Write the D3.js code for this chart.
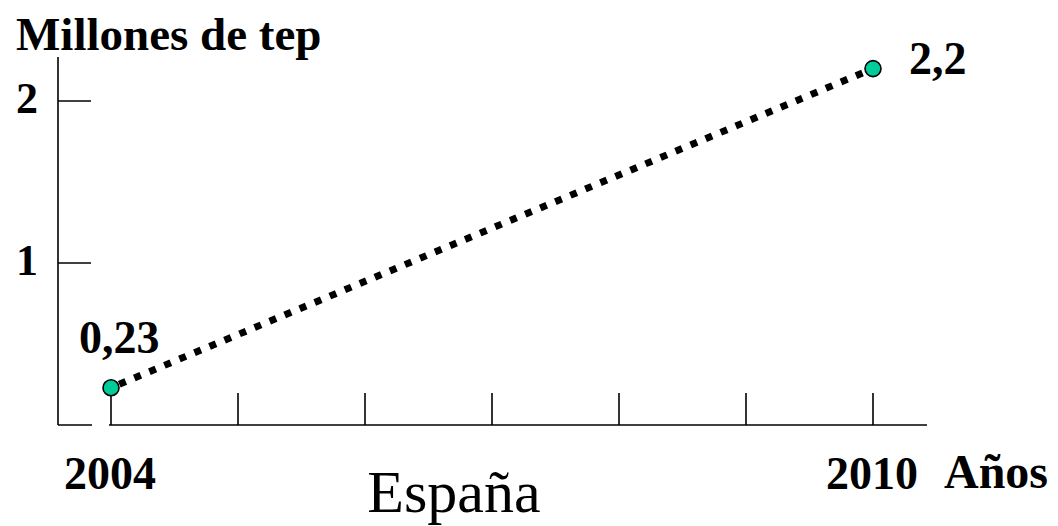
<!DOCTYPE html>
<html>
<head>
<meta charset="utf-8">
<script src="https://cdn.jsdelivr.net/npm/d3@7"></script>
<style>
  html, body { margin: 0; padding: 0; background: #fff; }
  svg { display: block; }
  text { font-family: "Liberation Serif", "Times New Roman", serif; fill: #000; }
</style>
</head>
<body>
<svg id="chart" width="1058" height="526"></svg>
<script>
// ---- data ----
const years = [2004, 2010];
const values = [0.23, 2.2];
const valueLabels = ["0,23", "2,2"];
const xTickYears = [2004, 2005, 2006, 2007, 2008, 2009, 2010];
const xTickLabels = ["2004", "2010"];
const yTicks = [1, 2];
const yTickLabels = ["1", "2"];
const yTitle = "Millones de tep";
const xTitle = "Años";
const caption = "España";

// ---- layout ----
const svg = d3.select("#chart");
const x = d3.scaleLinear().domain([2004, 2010]).range([111, 873]);
const y = d3.scaleLinear().domain([0, 2]).range([425, 101]);
const axisX0 = 58, axisXEnd = 927, axisYTop = 57;
const tickLen = 32;
const boldFont = "bold 46px 'Liberation Serif', 'Times New Roman', serif";

// y axis
svg.append("line")
  .attr("x1", axisX0).attr("x2", axisX0)
  .attr("y1", axisYTop).attr("y2", y(0))
  .attr("stroke", "#000").attr("stroke-width", 1.6);

// y ticks (inward, to the right)
svg.selectAll(".ytick").data(yTicks).enter().append("line")
  .attr("x1", axisX0).attr("x2", axisX0 + tickLen + 1)
  .attr("y1", d => y(d)).attr("y2", d => y(d))
  .attr("stroke", "#000").attr("stroke-width", 1.6);

svg.selectAll(".ylab").data(yTicks).enter().append("text")
  .attr("x", 38).attr("y", d => y(d) + 12)
  .attr("text-anchor", "end")
  .style("font", "bold 44px 'Liberation Serif', 'Times New Roman', serif")
  .text((d, i) => yTickLabels[i]);

// x axis: short stub, gap, then main segment
svg.append("line")
  .attr("x1", axisX0).attr("x2", x(2004) - 19)
  .attr("y1", y(0)).attr("y2", y(0))
  .attr("stroke", "#000").attr("stroke-width", 1.6);
svg.append("line")
  .attr("x1", x(2004) - 2).attr("x2", axisXEnd)
  .attr("y1", y(0)).attr("y2", y(0))
  .attr("stroke", "#000").attr("stroke-width", 1.6);

// x ticks (upward)
svg.selectAll(".xtick").data(xTickYears).enter().append("line")
  .attr("x1", d => x(d)).attr("x2", d => x(d))
  .attr("y1", y(0)).attr("y2", y(0) - tickLen)
  .attr("stroke", "#000").attr("stroke-width", 1.6);

svg.selectAll(".xlab").data([2004, 2010]).enter().append("text")
  .attr("x", d => x(d) - 1).attr("y", 489)
  .attr("text-anchor", "middle")
  .style("font", boldFont)
  .text((d, i) => xTickLabels[i]);

// axis titles
svg.append("text").attr("x", 16).attr("y", 50)
  .style("font", "bold 47px 'Liberation Serif', 'Times New Roman', serif")
  .text(yTitle);
svg.append("text").attr("x", 944).attr("y", 488)
  .style("font", "bold 48px 'Liberation Serif', 'Times New Roman', serif")
  .text(xTitle);

// caption
svg.append("text").attr("x", 454).attr("y", 512)
  .attr("text-anchor", "middle")
  .style("font", "60px 'Liberation Serif', 'Times New Roman', serif")
  .text(caption);

// dotted line
const pts = years.map((yr, i) => [x(yr), y(values[i])]);
svg.append("path")
  .attr("d", d3.line()(pts))
  .attr("fill", "none")
  .attr("stroke", "#000")
  .attr("stroke-width", 7)
  .attr("stroke-dasharray", "7 9.3")
  .attr("stroke-dashoffset", -9);

// points
svg.selectAll(".pt").data(years).enter().append("circle")
  .attr("cx", (d) => x(d)).attr("cy", (d, i) => y(values[i]))
  .attr("r", 8)
  .attr("fill", "#00cc99")
  .attr("stroke", "#000").attr("stroke-width", 1.6);

// value labels
svg.append("text")
  .attr("x", x(years[0]) - 32).attr("y", y(values[0]) - 35)
  .style("font", boldFont).text(valueLabels[0]);
svg.append("text")
  .attr("x", x(years[1]) + 36).attr("y", y(values[1]) + 5)
  .style("font", boldFont).text(valueLabels[1]);
</script>
</body>
</html>
